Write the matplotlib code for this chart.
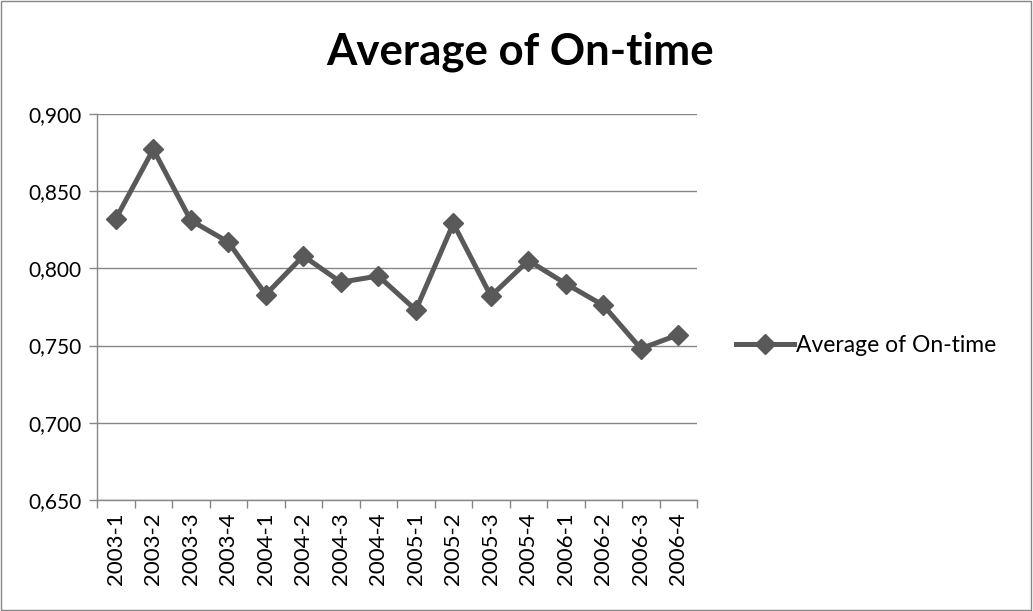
import matplotlib
matplotlib.use("Agg")
import matplotlib.pyplot as plt
from matplotlib.lines import Line2D
from matplotlib.patches import Rectangle
import numpy as np

quarters = ["2003-1", "2003-2", "2003-3", "2003-4",
            "2004-1", "2004-2", "2004-3", "2004-4",
            "2005-1", "2005-2", "2005-3", "2005-4",
            "2006-1", "2006-2", "2006-3", "2006-4"]
on_time = [0.832, 0.877, 0.831, 0.817,
           0.783, 0.808, 0.791, 0.795,
           0.773, 0.829, 0.782, 0.805,
           0.790, 0.776, 0.748, 0.757]
y_ticks = [0.650, 0.700, 0.750, 0.800, 0.850, 0.900]
series_name = "Average of On-time"

plt.rcParams["font.family"] = ["Lato", "DejaVu Sans"]

LINE = "#595959"
GRID = "#868686"

fig = plt.figure(figsize=(10.33, 6.11), dpi=100)
ax = fig.add_axes([0.0939, 0.1817, 0.581, 0.632])

x = np.arange(len(quarters))
ax.plot(x, on_time, color=LINE, linewidth=3.6, marker="D", markersize=10.5,
        markerfacecolor=LINE, markeredgecolor=LINE, solid_joinstyle="round")

ax.set_xlim(-0.5, len(quarters) - 0.5)
ax.set_ylim(y_ticks[0], y_ticks[-1])
ax.set_yticks(y_ticks)
ax.set_yticklabels([f"{v:.3f}".replace(".", ",") for v in y_ticks], fontsize=15)
ax.set_xticks(x)
ax.set_xticklabels(quarters, rotation=90, fontsize=16)
ax.set_xticks(np.arange(len(quarters) + 1) - 0.5, minor=True)
ax.tick_params(axis="x", which="major", length=0, pad=9)
ax.tick_params(axis="x", which="minor", length=6, color=GRID, width=1)
ax.tick_params(axis="y", length=6, color=GRID, width=1, pad=5)

ax.grid(axis="y", color=GRID, linewidth=1)
ax.set_axisbelow(True)
for side in ("top", "right"):
    ax.spines[side].set_visible(False)
for side in ("left", "bottom"):
    ax.spines[side].set_color(GRID)
    ax.spines[side].set_linewidth(1)

fig.text(0.503, 0.916, series_name, ha="center", va="center",
         fontsize=31.5, fontweight="bold")

handle = Line2D([], [], color=LINE, linewidth=3.6, marker="D", markersize=10.5)
fig.legend([handle], [series_name], loc="center left",
           bbox_to_anchor=(0.693, 0.434), frameon=False, fontsize=16.5,
           handlelength=2.5, handletextpad=0.1)

fig.patches.append(Rectangle((0.001, 0.002), 0.997, 0.996, transform=fig.transFigure,
                             fill=False, edgecolor=GRID, linewidth=1))

fig.savefig("out.png", dpi=100)
